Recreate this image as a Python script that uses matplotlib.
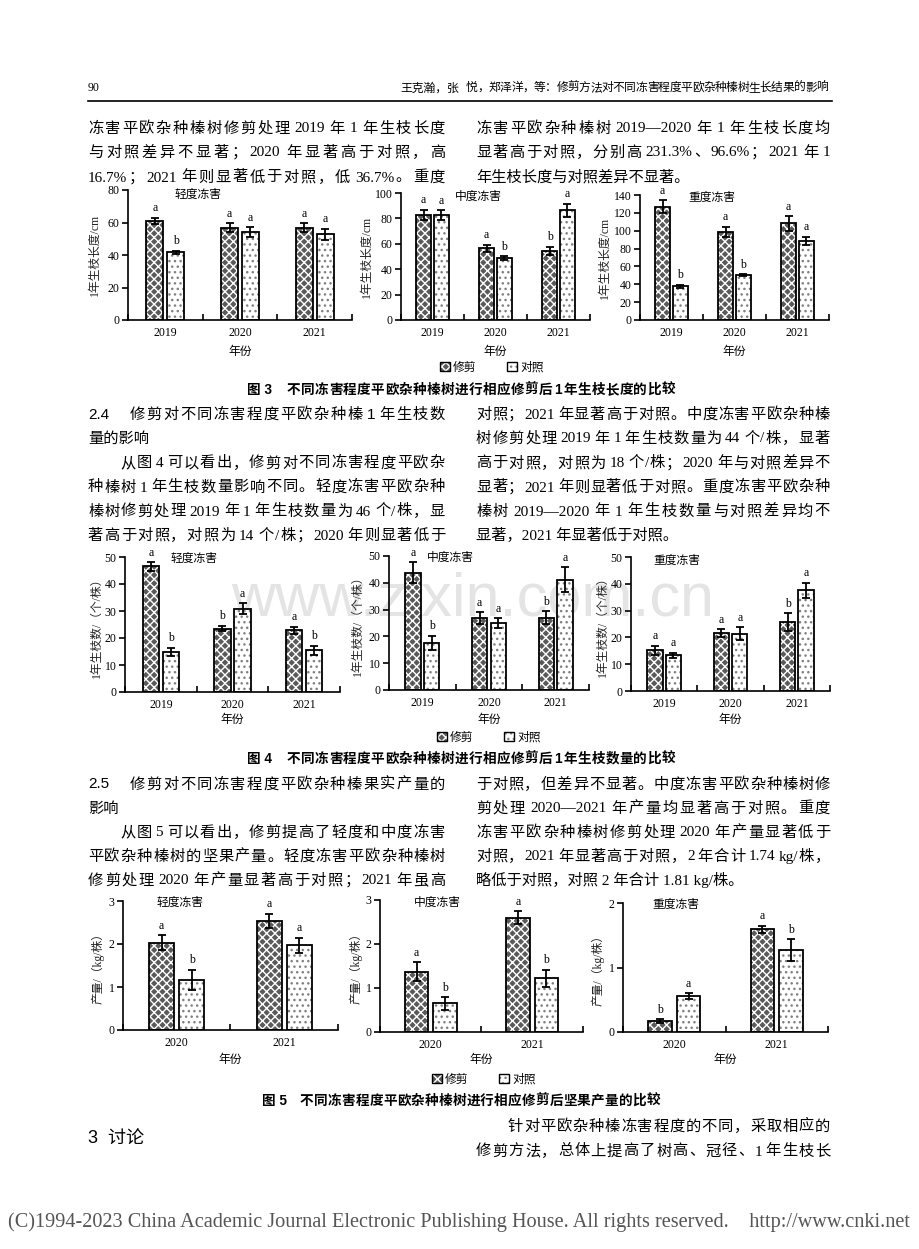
import re
import numpy as np
import matplotlib
matplotlib.use('Agg')
import matplotlib.pyplot as plt
from matplotlib.patches import Patch
from matplotlib.lines import Line2D

W, H = 920, 1249
SERIF = ['Liberation Serif', 'Noto Sans CJK SC']
SANS = ['Liberation Sans', 'Noto Sans CJK SC']
plt.rcParams['font.family'] = SERIF

# ---- 数据 ----
years3 = ['2019', '2020', '2021']
years2 = ['2020', '2021']
groups = ['轻度冻害', '中度冻害', '重度冻害']
legend_names = ['修剪', '对照']

# 图 3 1 年生枝长度 (cm)
len_cut = [[60.9, 56.8, 56.8], [82.7, 56.5, 54.5], [126.9, 98.9, 108.2]]
len_cut_err = [[2.0, 2.9, 2.7], [4.2, 2.6, 3.1], [7.0, 5.6, 8.0]]
len_ck = [[41.6, 54.0, 52.7], [82.5, 48.7, 86.4], [38.0, 50.4, 88.8]]
len_ck_err = [[1.0, 3.0, 3.4], [4.0, 1.6, 5.0], [1.7, 1.0, 4.6]]
len_cut_sig = [['a', 'a', 'a'], ['a', 'a', 'b'], ['a', 'a', 'a']]
len_ck_sig = [['b', 'a', 'a'], ['a', 'b', 'a'], ['b', 'b', 'a']]
len_ymax = [80, 100, 140]

# 图 4 1 年生枝数 (个/株)
num_cut = [[46.5, 23.5, 22.8], [43.7, 26.9, 27.0], [15.2, 21.6, 25.7]]
num_cut_err = [[1.6, 1.0, 1.4], [3.9, 2.2, 2.3], [1.7, 1.5, 3.4]]
num_ck = [[14.8, 30.9, 15.4], [17.6, 24.9, 41.2], [13.3, 21.4, 37.6]]
num_ck_err = [[1.6, 1.9, 1.7], [2.7, 1.8, 4.6], [1.0, 2.4, 2.8]]
num_cut_sig = [['a', 'b', 'a'], ['a', 'a', 'b'], ['a', 'a', 'b']]
num_ck_sig = [['b', 'a', 'b'], ['b', 'a', 'a'], ['a', 'a', 'a']]
num_ymax = [50, 50, 50]

# 图 5 产量 (kg/株)
yld_cut = [[2.03, 2.54], [1.37, 2.60], [0.165, 1.59]]
yld_cut_err = [[0.17, 0.16], [0.21, 0.14], [0.03, 0.06]]
yld_ck = [[1.17, 1.97], [0.65, 1.22], [0.56, 1.27]]
yld_ck_err = [[0.23, 0.18], [0.14, 0.20], [0.045, 0.17]]
yld_cut_sig = [['a', 'a'], ['a', 'a'], ['b', 'a']]
yld_ck_sig = [['b', 'a'], ['b', 'b'], ['a', 'b']]
yld_ymax = [3, 3, 2]

fig = plt.figure(figsize=(9.2, 12.49), dpi=100)
renderer = fig.canvas.get_renderer()


def fx(x):
  return x / W


def fy(y):
  return 1 - y / H


def text_line(x0, y, s, x1=None, size=11, fam=SERIF, **kw):
  '''在像素坐标 (x0, y) 写一行字，给出 x1 时两端对齐'''
  base = y + size * 100 / 72 * 0.36
  if x1 is None:
    return fig.text(fx(x0), fy(base), s, fontsize=size, family=fam, va='baseline', **kw)
  toks = re.findall(r'[!-~—]+| |.', s)
  arts, widths = [], []
  for t in toks:
    if t == ' ':
      arts.append(None)
      widths.append(size * 100 / 72 * 0.1)
    else:
      a = fig.text(0, 0, t, fontsize=size, family=fam, va='baseline', **kw)
      arts.append(a)
      widths.append(a.get_window_extent(renderer).width)
  gap = (x1 - x0 - sum(widths)) / (len(toks) - 1)
  x = x0
  for a, w in zip(arts, widths):
    if a is not None:
      a.set_position((fx(x), fy(base)))
    x += w + gap


def panel(box, cats, cut, cut_e, ck, ck_e, sig_cut, sig_ck, ymax, ystep,
          ylabel, ylab_x, title, title_xy, xlab_y):
  l, t, r, b = box
  ax = fig.add_axes([fx(l), fy(b), (r - l) / W, (b - t) / H])
  ax.set_facecolor('none')
  n = len(cats)
  x = np.arange(n) + 0.5
  xa, xb = x - 0.14, x + 0.14
  ax.bar(xa, cut, 0.23, color='#5a5a5a', edgecolor='white', hatch='xxxx', lw=0, zorder=2)
  ax.bar(xa, cut, 0.23, fill=False, edgecolor='black', lw=1.3, zorder=3)
  ax.bar(xb, ck, 0.23, color='white', edgecolor='#808080', hatch='...', lw=0, zorder=2)
  ax.bar(xb, ck, 0.23, fill=False, edgecolor='black', lw=1.3, zorder=3)
  for xs, v, e in ((xa, cut, cut_e), (xb, ck, ck_e)):
    ax.errorbar(xs, v, yerr=e, fmt='none', ecolor='black', elinewidth=1.3,
                capsize=3, capthick=1.3, zorder=4)
  for xs, v, e, s in zip(list(xa) + list(xb), cut + ck, cut_e + ck_e, sig_cut + sig_ck):
    ax.annotate(s, (xs, v + e), xytext=(0, 2.5), textcoords='offset points',
                ha='center', va='bottom', fontsize=8.5)
  ax.set_xlim(0, n)
  ax.set_ylim(0, ymax)
  ax.set_yticks(np.arange(0, ymax + ystep / 2, ystep))
  ax.set_xticks(np.arange(n + 1))
  ax.set_xticklabels([])
  ax.set_xticks(x, cats, minor=True)
  ax.tick_params(axis='x', which='major', direction='in', length=4, width=1.2)
  ax.tick_params(axis='x', which='minor', length=0, pad=5, labelsize=8.5)
  ax.tick_params(axis='y', direction='out', length=4, width=1.2, pad=2, labelsize=8.5)
  for sp in ['top', 'right']:
    ax.spines[sp].set_visible(False)
  for sp in ['left', 'bottom']:
    ax.spines[sp].set_linewidth(1.2)
  fig.text(fx(ylab_x), fy((t + b) / 2), ylabel, rotation=90, ha='center', va='center',
           fontsize=8.5, color='#222222')
  fig.text(fx(title_xy[0]), fy(title_xy[1]), title, ha='center', va='center', fontsize=8.5)
  fig.text(fx((l + r) / 2), fy(xlab_y), '年份', ha='center', va='center', fontsize=8.5)
  return ax


def legend(cx, cy):
  h_cut = (Patch(facecolor='#5a5a5a', edgecolor='white', hatch='xxxx', lw=0),
           Patch(fill=False, edgecolor='black', lw=1))
  h_ck = (Patch(facecolor='white', edgecolor='#808080', hatch='...', lw=0),
          Patch(fill=False, edgecolor='black', lw=1))
  fig.legend([h_cut, h_ck], legend_names, loc='center', bbox_to_anchor=(fx(cx), fy(cy)),
             ncol=2, frameon=False, fontsize=8.5, handlelength=0.8, handleheight=0.8,
             handletextpad=0.3, columnspacing=2.6, borderpad=0)


# 水印
fig.text(fx(473), fy(600), 'www.zixin.com.cn', fontsize=44, color='#e4e4e4',
         family='Liberation Sans', ha='center', va='center', zorder=-1)

# ---- 页眉 ----
text_line(88, 87, '90', size=8.5)
text_line(400, 87, '王克瀚，张', size=8.5)
text_line(466, 87, '悦，郑泽洋，等：修剪方法对不同冻害程度平欧杂种榛树生长结果的影响',
          x1=828, size=8.5)
fig.add_artist(Line2D([fx(88), fx(832)], [fy(101), fy(101)], lw=1.2, color='black'))

# ---- 正文 1 ----
text_line(88, 127, '冻害平欧杂种榛树修剪处理 2019 年 1 年生枝长度', x1=445)
text_line(88, 151, '与对照差异不显著；2020 年显著高于对照，高', x1=445)
text_line(88, 176, '16.7%；2021 年则显著低于对照，低 36.7%。重度', x1=445)
text_line(476, 127, '冻害平欧杂种榛树 2019—2020 年 1 年生枝长度均', x1=830)
text_line(476, 151, '显著高于对照，分别高 231.3%、96.6%；2021 年 1', x1=830)
text_line(476, 176, '年生枝长度与对照差异不显著。')

# ---- 图 3 ----
boxes3 = [(128, 190, 352, 320), (401, 193, 590, 320), (640, 195, 829, 320)]
ylx3 = [95, 367, 605]
tit3 = [(198, 195), (478, 197), (712, 198)]
for i in range(3):
  panel(boxes3[i], years3, len_cut[i], len_cut_err[i], len_ck[i], len_ck_err[i],
        len_cut_sig[i], len_ck_sig[i], len_ymax[i], 20, '1年生枝长度/cm',
        ylx3[i], groups[i], tit3[i], 352)
legend(492, 368)
text_line(247, 389, '图 3', size=9.8, fam=SANS, weight='bold')
text_line(287, 389, '不同冻害程度平欧杂种榛树进行相应修剪后 1 年生枝长度的比较', x1=675,
          size=9.8, fam=SANS, weight='bold')

# ---- 2.4 ----
text_line(88, 413, '2.4', fam=SANS)
text_line(130, 413, '修剪对不同冻害程度平欧杂种榛 1 年生枝数', x1=445, fam=SANS)
text_line(88, 437, '量的影响', fam=SANS)
text_line(120, 462, '从图 4 可以看出，修剪对不同冻害程度平欧杂', x1=445)
text_line(88, 486, '种榛树 1 年生枝数量影响不同。轻度冻害平欧杂种', x1=445)
text_line(88, 510, '榛树修剪处理 2019 年 1 年生枝数量为 46 个/株，显', x1=445)
text_line(88, 534, '著高于对照，对照为 14 个/株；2020 年则显著低于', x1=445)
text_line(476, 413, '对照；2021 年显著高于对照。中度冻害平欧杂种榛', x1=830)
text_line(476, 437, '树修剪处理 2019 年 1 年生枝数量为 44 个/株，显著', x1=830)
text_line(476, 462, '高于对照，对照为 18 个/株；2020 年与对照差异不', x1=830)
text_line(476, 486, '显著；2021 年则显著低于对照。重度冻害平欧杂种', x1=830)
text_line(476, 510, '榛树 2019—2020 年 1 年生枝数量与对照差异均不', x1=830)
text_line(476, 534, '显著，2021 年显著低于对照。')

# ---- 图 4 ----
boxes4 = [(125, 557, 340, 692), (389, 556, 589, 690), (631, 557, 830, 691)]
ylx4 = [97, 358, 603]
tit4 = [(194, 559), (450, 558), (677, 561)]
for i in range(3):
  panel(boxes4[i], years3, num_cut[i], num_cut_err[i], num_ck[i], num_ck_err[i],
        num_cut_sig[i], num_ck_sig[i], num_ymax[i], 10, '1年生枝数/（个/株）',
        ylx4[i], groups[i], tit4[i], 720)
legend(489, 738)
text_line(247, 758, '图 4', size=9.8, fam=SANS, weight='bold')
text_line(287, 758, '不同冻害程度平欧杂种榛树进行相应修剪后 1 年生枝数量的比较', x1=675,
          size=9.8, fam=SANS, weight='bold')

# ---- 2.5 ----
text_line(88, 783, '2.5', fam=SANS)
text_line(130, 783, '修剪对不同冻害程度平欧杂种榛果实产量的', x1=445, fam=SANS)
text_line(88, 807, '影响', fam=SANS)
text_line(120, 831, '从图 5 可以看出，修剪提高了轻度和中度冻害', x1=445)
text_line(88, 855, '平欧杂种榛树的坚果产量。轻度冻害平欧杂种榛树', x1=445)
text_line(88, 879, '修剪处理 2020 年产量显著高于对照；2021 年虽高', x1=445)
text_line(476, 783, '于对照，但差异不显著。中度冻害平欧杂种榛树修', x1=830)
text_line(476, 807, '剪处理 2020—2021 年产量均显著高于对照。重度', x1=830)
text_line(476, 831, '冻害平欧杂种榛树修剪处理 2020 年产量显著低于', x1=830)
text_line(476, 855, '对照，2021 年显著高于对照，2 年合计 1.74 kg/株，', x1=830)
text_line(476, 879, '略低于对照，对照 2 年合计 1.81 kg/株。')

# ---- 图 5 ----
boxes5 = [(123, 901, 338, 1030), (380, 900, 583, 1032), (623, 903, 828, 1032)]
ylx5 = [98, 356, 598]
tit5 = [(180, 903), (437, 903), (676, 905)]
for i in range(3):
  panel(boxes5[i], years2, yld_cut[i], yld_cut_err[i], yld_ck[i], yld_ck_err[i],
        yld_cut_sig[i], yld_ck_sig[i], yld_ymax[i], 1, '产量/（kg/株）',
        ylx5[i], groups[i], tit5[i], 1060)
legend(484, 1080)
text_line(262, 1100, '图 5', size=9.8, fam=SANS, weight='bold')
text_line(300, 1100, '不同冻害程度平欧杂种榛树进行相应修剪后坚果产量的比较', x1=660,
          size=9.8, fam=SANS, weight='bold')

# ---- 3 讨论 ----
text_line(88, 1137, '3  讨论', size=13, fam=SANS)
text_line(508, 1125, '针对平欧杂种榛冻害程度的不同，采取相应的', x1=830)
text_line(476, 1150, '修剪方法，总体上提高了树高、冠径、1 年生枝长', x1=830)

# ---- 页脚 ----
foot = text_line(8, 1221, '(C)1994-2023 China Academic Journal Electronic Publishing House. '
                 'All rights reserved.    http://www.cnki.net', size=11, color='#555555')
fw = foot.get_window_extent(renderer).width
foot.set_fontsize(11 * 904 / fw)

fig.savefig('out.png', dpi=100)
